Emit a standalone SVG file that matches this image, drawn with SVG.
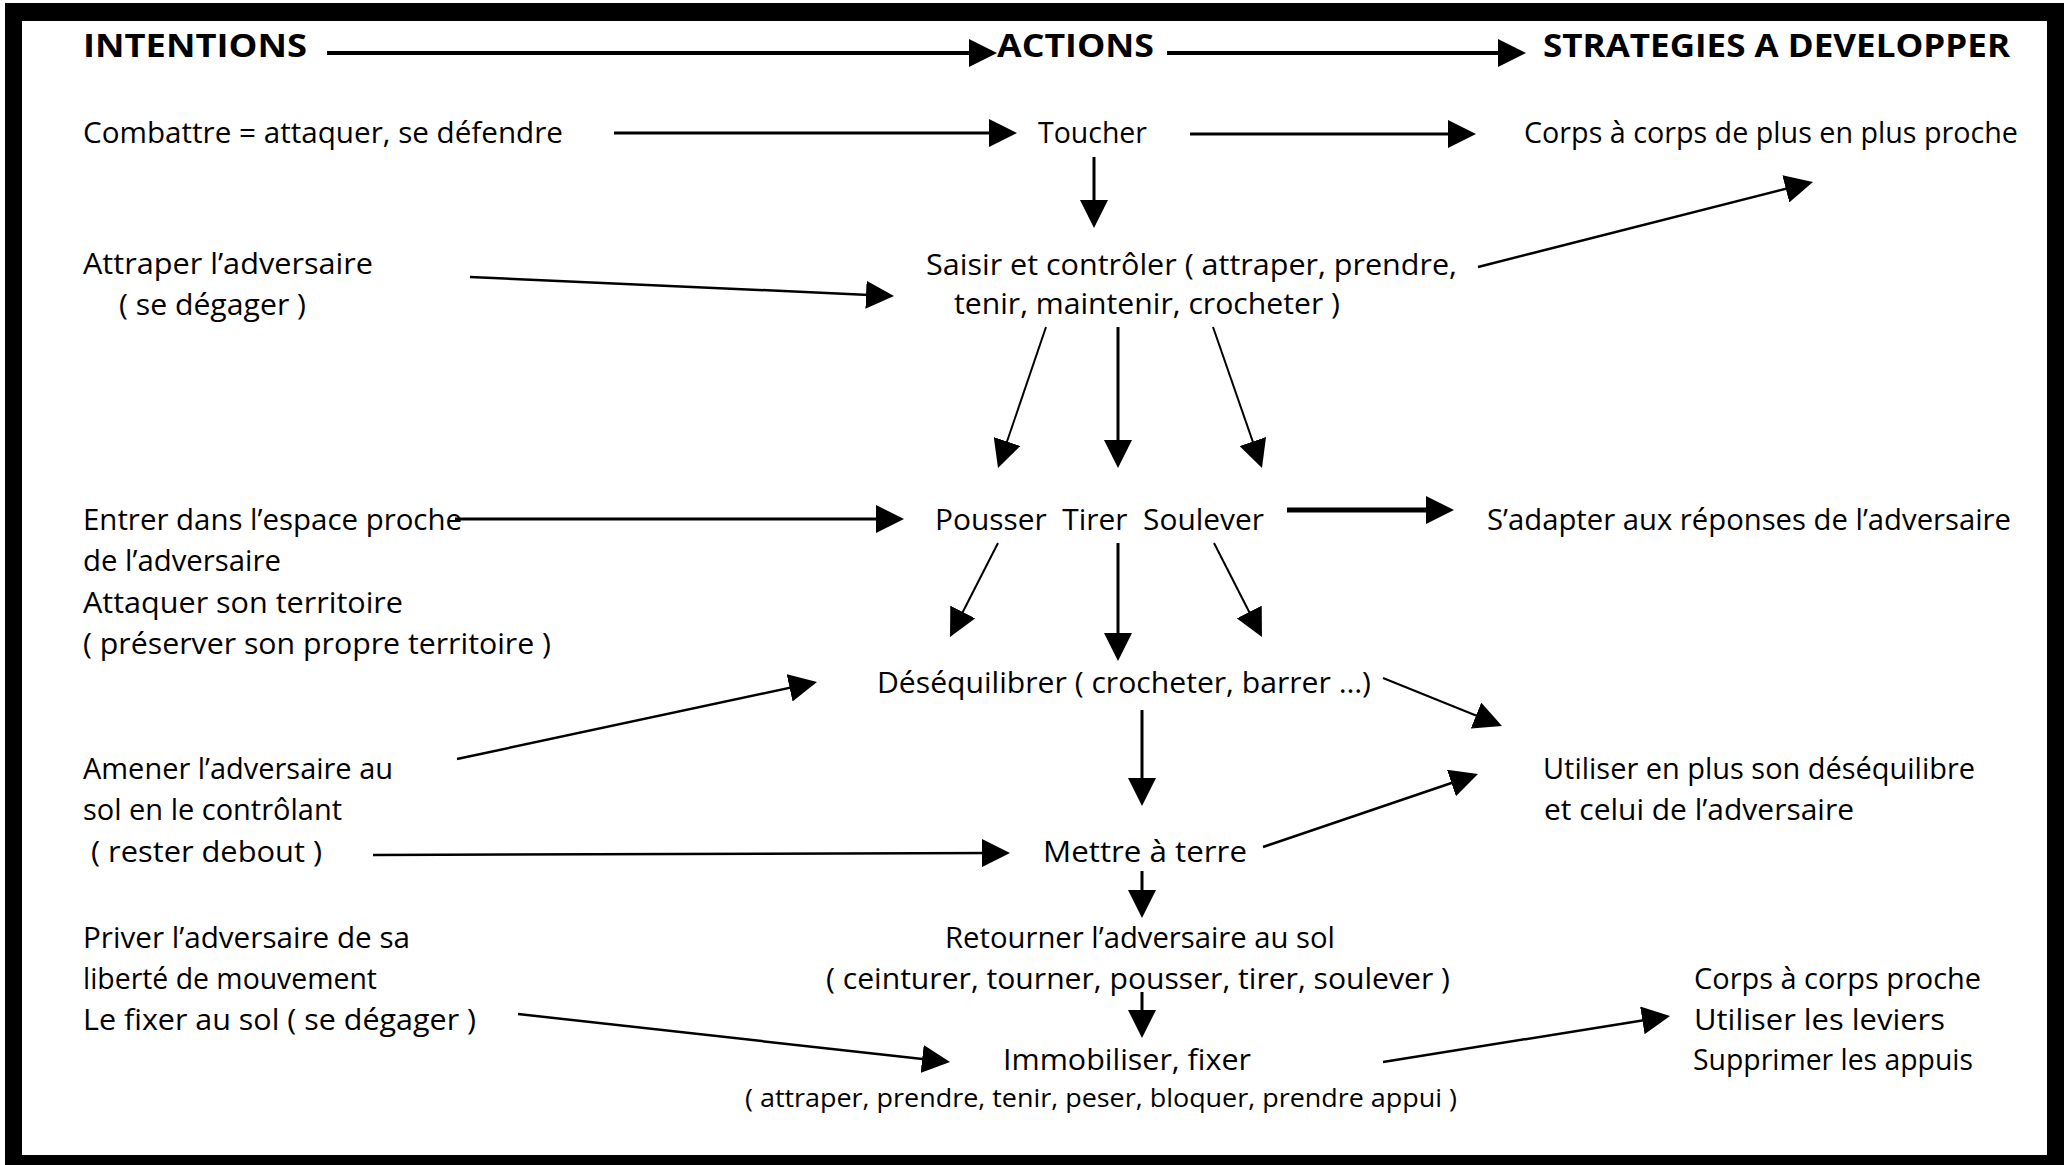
<svg xmlns="http://www.w3.org/2000/svg" width="2069" height="1165" viewBox="0 0 2069 1165">
<defs>
<style>
text{font-family:"Open Sans","Liberation Sans",sans-serif;font-size:29px;fill:#000;}
.h{font-weight:bold;font-size:33px;}
.s{font-size:25px;}
.c line{stroke:#000;stroke-linecap:butt;marker-end:url(#ah);}
</style>
<marker id="ah" markerUnits="userSpaceOnUse" markerWidth="28" markerHeight="28" refX="14" refY="14" orient="auto" viewBox="0 0 28 28">
<path d="M0,0 L28,14 L0,28 z" fill="#000"/>
</marker>
</defs>
<rect x="0" y="0" width="2069" height="1165" fill="#fff"/>
<rect id="frame" x="5" y="3" width="2059" height="1162" fill="#000"/>
<rect x="22" y="21" width="2025" height="1134" fill="#fff"/>

<g id="h-intentions"><text class="h" x="83" y="57" textLength="224" lengthAdjust="spacingAndGlyphs">INTENTIONS</text></g>
<g id="h-actions"><text class="h" x="997" y="57" textLength="157" lengthAdjust="spacingAndGlyphs">ACTIONS</text></g>
<g id="h-strategies"><text class="h" x="1543" y="57" textLength="467" lengthAdjust="spacingAndGlyphs">STRATEGIES A DEVELOPPER</text></g>

<g id="n-combattre"><text x="83" y="143" textLength="480" lengthAdjust="spacingAndGlyphs">Combattre = attaquer, se défendre</text></g>
<g id="n-toucher"><text x="1038" y="143" textLength="109" lengthAdjust="spacingAndGlyphs">Toucher</text></g>
<g id="n-corps1"><text x="1524" y="143" textLength="494" lengthAdjust="spacingAndGlyphs">Corps à corps de plus en plus proche</text></g>

<g id="n-attraper">
<text x="83" y="274" textLength="290" lengthAdjust="spacingAndGlyphs">Attraper l’adversaire</text>
<text x="119" y="315" textLength="187" lengthAdjust="spacingAndGlyphs">( se dégager )</text>
</g>
<g id="n-saisir">
<text x="926" y="275" textLength="531" lengthAdjust="spacingAndGlyphs">Saisir et contrôler ( attraper, prendre,</text>
<text x="954" y="314" textLength="386" lengthAdjust="spacingAndGlyphs">tenir, maintenir, crocheter )</text>
</g>

<g id="n-entrer">
<text x="83" y="530" textLength="379" lengthAdjust="spacingAndGlyphs">Entrer dans l’espace proche</text>
<text x="83" y="571" textLength="198" lengthAdjust="spacingAndGlyphs">de l’adversaire</text>
<text x="83" y="613" textLength="320" lengthAdjust="spacingAndGlyphs">Attaquer son territoire</text>
<text x="83" y="654" textLength="468" lengthAdjust="spacingAndGlyphs">( préserver son propre territoire )</text>
</g>
<g id="n-pousser"><text x="935" y="530" textLength="329" lengthAdjust="spacingAndGlyphs" xml:space="preserve" style="white-space:pre">Pousser  Tirer  Soulever</text></g>
<g id="n-adapter"><text x="1487" y="530" textLength="524" lengthAdjust="spacingAndGlyphs">S’adapter aux réponses de l’adversaire</text></g>

<g id="n-desequilibrer"><text x="877" y="693" textLength="494" lengthAdjust="spacingAndGlyphs">Déséquilibrer ( crocheter, barrer …)</text></g>

<g id="n-amener">
<text x="83" y="779" textLength="310" lengthAdjust="spacingAndGlyphs">Amener l’adversaire au</text>
<text x="83" y="820" textLength="259" lengthAdjust="spacingAndGlyphs">sol en le contrôlant</text>
<text x="91" y="862" textLength="231" lengthAdjust="spacingAndGlyphs">( rester debout )</text>
</g>
<g id="n-utiliser">
<text x="1543" y="779" textLength="432" lengthAdjust="spacingAndGlyphs">Utiliser en plus son déséquilibre</text>
<text x="1544" y="820" textLength="310" lengthAdjust="spacingAndGlyphs">et celui de l’adversaire</text>
</g>
<g id="n-mettre"><text x="1043" y="862" textLength="204" lengthAdjust="spacingAndGlyphs">Mettre à terre</text></g>

<g id="n-priver">
<text x="83" y="948" textLength="327" lengthAdjust="spacingAndGlyphs">Priver l’adversaire de sa</text>
<text x="83" y="989" textLength="294" lengthAdjust="spacingAndGlyphs">liberté de mouvement</text>
<text x="83" y="1030" textLength="393" lengthAdjust="spacingAndGlyphs">Le fixer au sol ( se dégager )</text>
</g>
<g id="n-retourner">
<text x="945" y="948" textLength="390" lengthAdjust="spacingAndGlyphs">Retourner l’adversaire au sol</text>
<text x="826" y="989" textLength="624" lengthAdjust="spacingAndGlyphs">( ceinturer, tourner, pousser, tirer, soulever )</text>
</g>
<g id="n-immobiliser">
<text x="1003" y="1070" textLength="248" lengthAdjust="spacingAndGlyphs">Immobiliser, fixer</text>
<text class="s" x="745" y="1107" textLength="712" lengthAdjust="spacingAndGlyphs">( attraper, prendre, tenir, peser, bloquer, prendre appui )</text>
</g>
<g id="n-corps2">
<text x="1694" y="989" textLength="287" lengthAdjust="spacingAndGlyphs">Corps à corps proche</text>
<text x="1694" y="1030" textLength="251" lengthAdjust="spacingAndGlyphs">Utiliser les leviers</text>
<text x="1693" y="1070" textLength="280" lengthAdjust="spacingAndGlyphs">Supprimer les appuis</text>
</g>

<g id="connectors" class="c">
<line x1="327" y1="53" x2="983" y2="53" stroke-width="4"/>
<line x1="1167" y1="53" x2="1512" y2="53" stroke-width="4"/>
<line x1="614" y1="133" x2="1003" y2="133" stroke-width="3"/>
<line x1="1190" y1="134" x2="1462" y2="134" stroke-width="3"/>
<line x1="1094" y1="157" x2="1094" y2="214" stroke-width="3"/>
<line x1="470" y1="277" x2="880" y2="295.4" stroke-width="2.5"/>
<line x1="1478" y1="267" x2="1799.4" y2="185.4" stroke-width="2.5"/>
<line x1="1046" y1="327" x2="1002.5" y2="454.8" stroke-width="2"/>
<line x1="1118" y1="327" x2="1118" y2="454" stroke-width="3"/>
<line x1="1213" y1="327" x2="1257.4" y2="454.8" stroke-width="2"/>
<line x1="455" y1="519" x2="890" y2="519" stroke-width="3"/>
<line x1="1287" y1="510" x2="1440" y2="510" stroke-width="5"/>
<line x1="998" y1="543" x2="956.4" y2="624.5" stroke-width="2"/>
<line x1="1118" y1="543" x2="1118" y2="647" stroke-width="3"/>
<line x1="1214" y1="543" x2="1255.6" y2="624.5" stroke-width="2"/>
<line x1="457" y1="759" x2="803.3" y2="684.9" stroke-width="2.5"/>
<line x1="1383" y1="678" x2="1489" y2="720.8" stroke-width="2"/>
<line x1="1142" y1="710" x2="1142" y2="792" stroke-width="3"/>
<line x1="373" y1="855" x2="996" y2="853" stroke-width="2.5"/>
<line x1="1263" y1="847" x2="1464.7" y2="778.5" stroke-width="2.5"/>
<line x1="1142" y1="871" x2="1142" y2="904" stroke-width="3"/>
<line x1="1142" y1="992" x2="1142" y2="1024" stroke-width="3"/>
<line x1="518" y1="1014" x2="936.1" y2="1060.5" stroke-width="2.5"/>
<line x1="1383" y1="1062" x2="1656.2" y2="1018.2" stroke-width="2.5"/>
</g>
</svg>
